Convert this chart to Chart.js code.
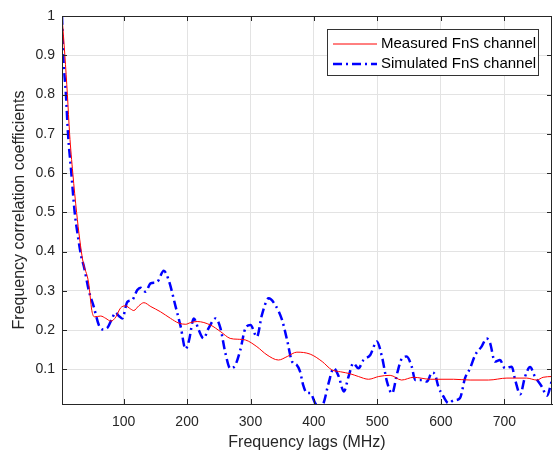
<!DOCTYPE html>
<html>
<head>
<meta charset="utf-8">
<script src="https://cdn.jsdelivr.net/npm/chart.js@4.4.0/dist/chart.umd.min.js"></script>
<style>
  html, body { margin: 0; padding: 0; background: #fff; }
</style>
</head>
<body>
<canvas id="chart" width="553" height="453"></canvas>
<script>
// measured FnS channel (red line)
const measuredX = [3, 7.5, 11.5, 15, 20, 26, 31, 36, 45, 50, 54, 64, 72, 80, 88, 95, 103, 111, 116, 124, 132, 143, 158, 174, 187, 198, 205, 216, 237, 253, 268, 279, 292, 310, 326, 344, 358, 373, 394, 413, 428, 442, 457, 470, 486, 502, 520, 538, 557, 583, 620, 646, 675, 704, 735, 751, 761, 775];
const measuredY = [1, 0.9, 0.8, 0.7, 0.6, 0.5, 0.43, 0.375, 0.32, 0.25, 0.234, 0.236, 0.23, 0.223, 0.234, 0.256, 0.262, 0.254, 0.25, 0.262, 0.27, 0.26, 0.247, 0.23, 0.218, 0.215, 0.219, 0.222, 0.213, 0.196, 0.179, 0.177, 0.175, 0.158, 0.137, 0.124, 0.133, 0.144, 0.139, 0.12, 0.099, 0.094, 0.089, 0.082, 0.075, 0.082, 0.085, 0.073, 0.08, 0.075, 0.075, 0.073, 0.073, 0.078, 0.078, 0.073, 0.08, 0.082];

// simulated FnS channel (blue dash-dot)
const simulatedX = [3, 5, 9.2, 12.5, 17.7, 23, 28, 33, 37.5, 45.4, 53, 61, 66.5, 74, 82, 87.4, 92.6, 98, 106, 113.7, 121.6, 126.8, 134.6, 142.5, 153, 163.4, 171, 182, 190, 197.6, 203, 210.6, 218.5, 226, 234, 244.8, 252.6, 260.5, 268, 276, 284, 292, 300, 310, 318, 328.6, 339, 349.7, 357.6, 365.5, 373, 378, 383, 389, 394, 402, 408, 415, 423, 431, 439, 447, 454.5, 462, 470, 478, 488.7, 499, 507, 515, 523, 531, 538.5, 546, 554, 559.5, 570, 578, 586, 591, 596, 604, 612, 620, 630, 638, 646, 654, 664, 672, 677.5, 685, 693, 701, 711.6, 717, 725, 732.6, 740.5, 748, 759, 767, 775];
const simulatedY = [1, 0.9, 0.8, 0.7, 0.6, 0.5, 0.44, 0.39, 0.362, 0.3, 0.26, 0.213, 0.202, 0.205, 0.23, 0.245, 0.236, 0.23, 0.272, 0.277, 0.302, 0.308, 0.298, 0.319, 0.323, 0.351, 0.328, 0.26, 0.209, 0.152, 0.173, 0.23, 0.2, 0.179, 0.205, 0.23, 0.205, 0.141, 0.103, 0.111, 0.15, 0.205, 0.213, 0.183, 0.239, 0.281, 0.264, 0.226, 0.175, 0.12, 0.111, 0.095, 0.06, 0.04, 0.04, 0.014, 0.005, 0.014, 0.065, 0.103, 0.082, 0.044, 0.082, 0.116, 0.103, 0.124, 0.137, 0.171, 0.133, 0.069, 0.039, 0.09, 0.128, 0.133, 0.107, 0.073, 0.073, 0.069, 0.092, 0.086, 0.056, 0.031, 0.014, 0.021, 0.027, 0.078, 0.103, 0.137, 0.158, 0.179, 0.167, 0.12, 0.124, 0.103, 0.107, 0.073, 0.037, 0.082, 0.106, 0.082, 0.056, 0.033, 0.073];

const xTicks = [100, 200, 300, 400, 500, 600, 700];
const yTicks = [0.1, 0.2, 0.3, 0.4, 0.5, 0.6, 0.7, 0.8, 0.9, 1];
const seriesNames = ["Measured FnS channel", "Simulated FnS channel"];

const FONT = "'Liberation Sans', Arial, Helvetica, sans-serif";
const AXIS = "#262626";
const blueDash = [9, 4, 2, 4];

const toPoints = (xs, ys) => xs.map((x, i) => ({ x, y: ys[i] }));

// box round the plot with inward ticks, MATLAB style, plus the legend
const framePlugin = {
  id: "frame",
  afterDraw(chart) {
    const { ctx, chartArea: a, scales: { x, y } } = chart;
    ctx.save();
    ctx.strokeStyle = AXIS;
    ctx.lineWidth = 1;
    ctx.setLineDash([]);
    ctx.strokeRect(a.left + 0.5, a.top + 0.5, a.right - a.left - 1, a.bottom - a.top);
    ctx.beginPath();
    xTicks.forEach(v => {
      const px = Math.round(x.getPixelForValue(v)) + 0.5;
      ctx.moveTo(px, a.bottom); ctx.lineTo(px, a.bottom - 5);
      ctx.moveTo(px, a.top); ctx.lineTo(px, a.top + 5);
    });
    yTicks.forEach(v => {
      const py = Math.round(y.getPixelForValue(v)) + 0.5;
      ctx.moveTo(a.left, py); ctx.lineTo(a.left + 5, py);
      ctx.moveTo(a.right, py); ctx.lineTo(a.right - 5, py);
    });
    ctx.stroke();

    // legend
    const lx = 327.5, ly = 29.5, lw = 211, lh = 46;
    ctx.fillStyle = "#fff";
    ctx.fillRect(lx, ly, lw, lh);
    ctx.strokeStyle = "#333";
    ctx.strokeRect(lx, ly, lw, lh);
    const rows = [
      { y: 44, color: "#ff0000", width: 1, dash: [] },
      { y: 64, color: "#0000ff", width: 2.5, dash: blueDash }
    ];
    ctx.font = "15px " + FONT;
    ctx.textBaseline = "middle";
    rows.forEach((r, i) => {
      ctx.beginPath();
      ctx.strokeStyle = r.color;
      ctx.lineWidth = r.width;
      ctx.setLineDash(r.dash);
      ctx.moveTo(333, r.y); ctx.lineTo(377, r.y);
      ctx.stroke();
      ctx.fillStyle = "#000";
      ctx.fillText(seriesNames[i], 381, r.y);
    });
    ctx.restore();
  }
};

new Chart(document.getElementById("chart"), {
  type: "line",
  data: {
    datasets: [
      {
        label: seriesNames[0],
        data: toPoints(measuredX, measuredY),
        borderColor: "#ff0000",
        borderWidth: 1,
        pointRadius: 0,
        cubicInterpolationMode: "monotone"
      },
      {
        label: seriesNames[1],
        data: toPoints(simulatedX, simulatedY),
        borderColor: "#0000ff",
        borderWidth: 2.5,
        borderDash: blueDash,
        pointRadius: 0,
        cubicInterpolationMode: "monotone"
      }
    ]
  },
  options: {
    responsive: false,
    animation: false,
    layout: { padding: { top: 16, right: 1, left: 0, bottom: 0 } },
    plugins: { legend: { display: false }, tooltip: { enabled: false } },
    scales: {
      x: {
        type: "linear",
        min: 3,
        max: 775,
        afterBuildTicks: s => { s.ticks = xTicks.map(v => ({ value: v })); },
        afterFit: s => { s.height = 49; },
        ticks: { color: AXIS, font: { family: FONT, size: 14 }, padding: 10, maxRotation: 0 },
        grid: { color: "#e3e3e3", drawTicks: false },
        border: { color: AXIS },
        title: {
          display: true,
          text: "Frequency lags (MHz)",
          color: AXIS,
          font: { family: FONT, size: 16 },
          padding: { top: 0, bottom: 1 }
        }
      },
      y: {
        min: 0.012,
        max: 1,
        afterBuildTicks: s => { s.ticks = yTicks.map(v => ({ value: v })); },
        afterFit: s => { s.width = 62; },
        ticks: {
          color: AXIS,
          font: { family: FONT, size: 14 },
          padding: 7,
          callback: v => (v === 1 ? "1" : v.toFixed(1))
        },
        grid: { color: "#e3e3e3", drawTicks: false },
        border: { color: AXIS },
        title: {
          display: true,
          text: "Frequency correlation coefficients",
          color: AXIS,
          font: { family: FONT, size: 16 },
          padding: { top: 10, bottom: 0 }
        }
      }
    }
  },
  plugins: [framePlugin]
});
</script>
</body>
</html>
